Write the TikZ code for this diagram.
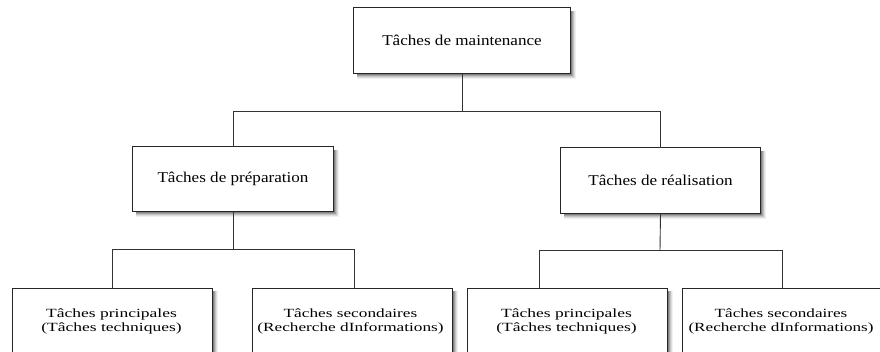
\documentclass[tikz,border=0pt]{standalone}
\usepackage{fontspec}
\setmainfont{Liberation Serif}
\colorlet{shadeA}{black!6}
\colorlet{shadeB}{black!13}
\colorlet{shadeC}{black!24}
\colorlet{shadeD}{black!36}
\colorlet{shadeE}{black!50}
\begin{document}
\begin{tikzpicture}[x=1pt,y=-1pt,
  frame/.style={rectangle, inner sep=0pt, draw=none, fill=none},
  boxline/.style={draw=black!85, line width=0.9pt, fill=white},
  bigtxt/.style={font=\fontsize{15}{17}\selectfont},
  smalltxt/.style={font=\fontsize{12.5}{14.5}\selectfont, align=center, anchor=north},
  link/.style={draw=black!80, line width=0.9pt}]
\useasboundingbox (0,0) rectangle (880,351);
% box frames
\node[frame, minimum width=216pt, minimum height=65pt] (top) at (462,40.5) {};
\node[frame, minimum width=200pt, minimum height=64pt] (prep) at (233,179) {};
\node[frame, minimum width=199pt, minimum height=65pt] (real) at (660.5,180.5) {};
\node[frame, minimum width=200pt, minimum height=90pt, anchor=north west] (b1) at (12,288) {};
\node[frame, minimum width=200pt, minimum height=90pt, anchor=north west] (b2) at (252,288) {};
\node[frame, minimum width=200pt, minimum height=90pt, anchor=north west] (b3) at (467,288) {};
\node[frame, minimum width=210pt, minimum height=90pt, anchor=north west] (b4) at (682,288) {};
% soft shadows drawn as stroked bands, lightest outermost
\foreach \n in {top,prep,real,b1,b2,b3,b4}{
  \foreach \d/\shc in {5/shadeA,4/shadeB,3/shadeC,2/shadeD,1/shadeE}{
    \draw[draw=\shc, line width=1.2pt]
      ([xshift=\d pt,yshift=-3pt]\n.north east)
      -- ([xshift=\d pt,yshift=-\d pt]\n.south east)
      -- ([xshift=3pt,yshift=-\d pt]\n.south west);
  }
}
% boxes
\foreach \n in {top,prep,real,b1,b2,b3,b4}{
  \draw[boxline] (\n.north west) rectangle (\n.south east);
}
% texts
\node[bigtxt] (ttop) at (top) {\scalebox{1.14}[1]{Tâches de maintenance}};
\node[bigtxt] (tprep) at (prep) {\scalebox{1.14}[1]{Tâches de préparation}};
\node[bigtxt] (treal) at (real) {\scalebox{1.14}[1]{Tâches de réalisation}};
\node[smalltxt] (t1) at (111.5,305) {\scalebox{1.4}[1]{Tâches principales}\\\scalebox{1.4}[1]{(Tâches techniques)}};
\node[smalltxt] (t2) at (350.5,305) {\scalebox{1.38}[1]{Tâches secondaires}\\\scalebox{1.38}[1]{(Recherche dInformations)}};
\node[smalltxt] (t3) at (566.5,305) {\scalebox{1.4}[1]{Tâches principales}\\\scalebox{1.4}[1]{(Tâches techniques)}};
\node[smalltxt] (t4) at (781,305) {\scalebox{1.37}[1]{Tâches secondaires}\\\scalebox{1.37}[1]{(Recherche dInformations)}};
% connectors
\coordinate (j1) at (462,111);
\coordinate (j2) at (233,249.5);
\coordinate (j3) at (660,250);
\draw[link] (top.south) -- (j1);
\draw[link] (prep.north) -- (prep.north |- j1) -- (real.north |- j1) -- (real.north);
\draw[link] (prep.south) -- (j2);
\draw[link] (b1.north) -- (b1.north |- j2) -- ([xshift=2pt]b2.north |- j2) -- ([xshift=2pt]b2.north);
\draw[link] (real.south) -- (j3);
\draw[link] ([xshift=-28pt]b3.north) -- ([xshift=-28pt]b3.north |- j3) -- ([xshift=-5pt]b4.north |- j3) -- ([xshift=-5pt]b4.north);
\end{tikzpicture}
\end{document}
